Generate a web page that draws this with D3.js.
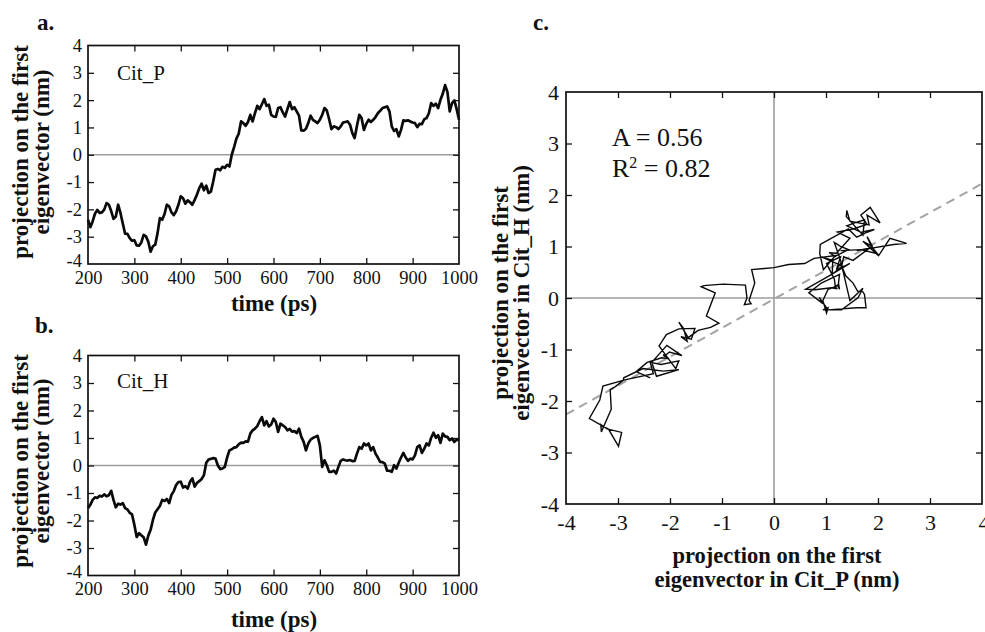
<!DOCTYPE html>
<html>
<head>
<meta charset="utf-8">
<script src="https://cdn.jsdelivr.net/npm/d3@7"></script>
<style>
  html, body { margin: 0; padding: 0; background: #fff; }
  svg { display: block; font-family: "Liberation Serif", "Times New Roman", serif; }
  svg text { font-family: "Liberation Serif", "Times New Roman", serif; }
</style>
</head>
<body>
<svg id="chart" width="985" height="632"></svg>
<script>
// ---------------- data ----------------
const timeStart = 200, timeStep = 5;           // ps, sampling of the traces
const timeTicks = [200, 300, 400, 500, 600, 700, 800, 900, 1000];
const valueTicks = [-4, -3, -2, -1, 0, 1, 2, 3, 4];

// projection on the first eigenvector, Cit_P (nm), t = 200..1000 ps every 5 ps
const citP = [
  -2.38,-2.65,-2.44,-2.16,-2.02,-2.13,-2.11,-2.01,-1.77,-1.83,
  -2.06,-2.35,-2.26,-1.83,-2.13,-2.52,-2.89,-2.90,-3.05,-3.15,
  -3.13,-3.32,-3.33,-3.21,-2.93,-2.99,-3.18,-3.55,-3.35,-3.29,
  -2.87,-2.32,-2.38,-2.17,-1.83,-1.89,-2.11,-2.21,-2.07,-1.83,
  -1.52,-1.59,-1.79,-1.67,-1.74,-1.83,-1.65,-1.46,-1.22,-1.06,
  -1.30,-1.13,-1.40,-1.35,-0.98,-0.55,-0.52,-0.57,-0.44,-0.48,
  -0.37,-0.43,0.00,0.28,0.59,0.77,1.22,1.16,1.06,1.20,
  1.46,1.22,1.52,1.79,1.67,1.85,2.04,1.79,1.83,1.46,
  1.40,1.39,1.71,1.74,1.55,1.40,1.67,1.93,1.67,1.74,
  1.59,1.43,0.89,0.88,0.95,1.16,1.43,1.28,1.22,1.16,
  1.28,1.46,1.71,1.62,1.30,0.94,1.04,1.01,0.94,1.04,
  1.18,1.20,1.22,1.10,0.79,0.61,1.06,1.46,1.34,0.91,
  1.13,1.28,1.20,1.28,1.38,1.52,1.61,1.71,1.74,1.77,
  1.59,1.04,0.87,0.94,0.67,0.91,1.26,1.24,1.26,1.22,
  1.18,1.16,1.01,1.13,1.12,1.30,1.34,1.52,1.89,1.79,
  1.87,1.71,2.01,2.23,2.55,2.30,1.59,1.89,1.99,1.67,
  1.28
];

// projection on the first eigenvector, Cit_H (nm), same time grid
const citH = [
  -1.55,-1.43,-1.25,-1.16,-1.18,-1.10,-1.13,-1.05,-1.12,-1.08,
  -0.92,-1.25,-1.52,-1.39,-1.42,-1.37,-1.55,-1.60,-1.72,-1.78,
  -2.16,-2.60,-2.46,-2.54,-2.61,-2.88,-2.55,-2.34,-1.98,-1.71,
  -1.59,-1.47,-1.25,-1.29,-1.22,-1.37,-1.07,-0.93,-0.71,-0.60,
  -0.59,-0.80,-0.75,-0.84,-0.59,-0.47,-0.77,-0.63,-0.57,-0.49,
  -0.35,0.10,0.22,0.24,0.27,0.25,0.00,-0.13,-0.11,-0.05,
  0.29,0.55,0.59,0.65,0.67,0.77,0.83,0.82,0.88,0.87,
  1.16,1.28,1.34,1.43,1.61,1.76,1.46,1.61,1.42,1.49,
  1.70,1.58,1.22,1.52,1.46,1.40,1.28,1.33,1.23,1.25,
  1.18,1.34,1.04,0.86,0.55,0.80,0.94,1.00,1.04,1.08,
  0.73,-0.05,0.19,0.01,-0.23,-0.23,-0.19,-0.29,-0.05,0.17,
  0.22,0.19,0.18,0.20,0.16,0.17,0.43,0.67,0.61,0.80,
  0.73,0.80,0.55,0.67,0.43,0.29,0.13,0.12,0.07,-0.19,
  -0.19,-0.23,0.01,-0.11,0.10,0.29,0.46,0.29,0.17,0.25,
  0.22,0.37,0.67,0.73,0.46,0.61,0.80,0.73,1.01,1.19,
  1.01,1.10,0.82,1.16,1.06,1.04,0.92,0.98,0.86,0.94,
  0.92
];

// linear fit shown in panel c
const fitSlope = 0.56;
const fitIntercept = -0.02;
const fitR2 = 0.82;

const times = citP.map((_, i) => timeStart + i * timeStep);

// ---------------- drawing ----------------
const svg = d3.select("#chart");
const FONT = '"Liberation Serif", "Times New Roman", serif';
const fmt = d => String(d);   // plain hyphen minus, as in the original

function frameAxes(g, x, y, box, opts) {
  const tl = 6;
  const bottom = d3.axisBottom(x).tickValues(opts.xTicks).tickSizeInner(-tl).tickSizeOuter(0)
      .tickPadding(opts.xPad).tickFormat(fmt);
  const top = d3.axisTop(x).tickValues(opts.xTicks).tickSizeInner(-tl).tickSizeOuter(0).tickFormat("");
  const left = d3.axisLeft(y).tickValues(valueTicks).tickSizeInner(-tl).tickSizeOuter(0)
      .tickPadding(opts.yPad).tickFormat(fmt);
  const right = d3.axisRight(y).tickValues(valueTicks).tickSizeInner(-tl).tickSizeOuter(0).tickFormat("");

  const gb = g.append("g").attr("transform", `translate(0,${box.y1})`).call(bottom);
  const gt = g.append("g").attr("transform", `translate(0,${box.y0})`).call(top);
  const gl = g.append("g").attr("transform", `translate(${box.x0},0)`).call(left);
  const gr = g.append("g").attr("transform", `translate(${box.x1},0)`).call(right);
  [gb, gt, gl, gr].forEach(a => {
    a.attr("font-family", FONT).attr("font-size", opts.fs);
    a.select(".domain").remove();
    a.selectAll(".tick line").attr("stroke", "#111").attr("stroke-width", 1.3);
    a.selectAll("text").attr("fill", "#111").style("font-family", FONT).style("font-size", opts.fs + "px");
  });
  const xEnds = [opts.xTicks[0], opts.xTicks[opts.xTicks.length - 1]];
  gb.selectAll(".tick").filter(d => xEnds.includes(d)).select("line").remove();
  gt.selectAll(".tick").filter(d => xEnds.includes(d)).select("line").remove();
  gl.selectAll(".tick").filter(d => d === -4 || d === 4).select("line").remove();
  gr.selectAll(".tick").filter(d => d === -4 || d === 4).select("line").remove();
  return { gb, gl };
}

function timePanel(box, values, label, panelLabel, plY, titleCy, xTitleY) {
  const x = d3.scaleLinear().domain([200, 1000]).range([box.x0, box.x1]);
  const y = d3.scaleLinear().domain([-4, 4]).range([box.y1, box.y0]);
  const g = svg.append("g");

  g.append("line").attr("x1", box.x0).attr("x2", box.x1).attr("y1", y(0)).attr("y2", y(0))
    .attr("stroke", "#9c9c9c").attr("stroke-width", 1.6);

  const line = d3.line().x((d, i) => x(times[i])).y(d => y(d));
  g.append("path").datum(values).attr("d", line).attr("fill", "none")
    .attr("stroke", "#0a0a0a").attr("stroke-width", 2.7).attr("stroke-linejoin", "round");

  const ax = frameAxes(g, x, y, box, { xTicks: timeTicks, xPad: 6.5, yPad: 6, fs: 18.5 });
  ax.gl.selectAll(".tick").filter(d => d === -4).select("text").attr("dy", "0.12em");

  g.append("rect").attr("x", box.x0).attr("y", box.y0).attr("width", box.x1 - box.x0).attr("height", box.y1 - box.y0)
    .attr("fill", "none").attr("stroke", "#111").attr("stroke-width", 1.7);

  g.append("text").attr("x", 117).attr("y", plY).text(label)
    .style("font-size", "21px").attr("fill", "#111");

  g.append("text").attr("x", panelLabel.x).attr("y", panelLabel.y).text(panelLabel.t)
    .style("font-size", "23px").style("font-weight", "bold").attr("fill", "#111");

  g.append("text").attr("x", (box.x0 + box.x1) / 2 + 0.5).attr("y", xTitleY).attr("text-anchor", "middle")
    .text("time (ps)").style("font-size", "23px").style("font-weight", "bold").attr("fill", "#111");

  const yt = g.append("g").attr("transform", `translate(0,${titleCy}) rotate(-90)`);
  yt.append("text").attr("x", 0).attr("y", 28).attr("text-anchor", "middle")
    .text("projection on the first").style("font-size", "23px").style("font-weight", "bold").attr("fill", "#111");
  yt.append("text").attr("x", 0).attr("y", 49).attr("text-anchor", "middle")
    .text("eigenvector (nm)").style("font-size", "23px").style("font-weight", "bold").attr("fill", "#111");
}

timePanel({ x0: 88, x1: 459, y0: 45.5, y1: 264 }, citP, "Cit_P", { x: 37, y: 30, t: "a." }, 80, 152, 311);
timePanel({ x0: 88, x1: 459, y0: 355.5, y1: 575.5 }, citH, "Cit_H", { x: 35, y: 333, t: "b." }, 388, 461, 627);

// ---------------- panel c ----------------
(function () {
  const box = { x0: 566, x1: 982, y0: 92, y1: 504 };
  const x = d3.scaleLinear().domain([-4, 4]).range([box.x0, box.x1]);
  const y = d3.scaleLinear().domain([-4, 4]).range([box.y1, box.y0]);
  const g = svg.append("g");

  g.append("line").attr("x1", box.x0).attr("x2", box.x1).attr("y1", y(0)).attr("y2", y(0))
    .attr("stroke", "#9c9c9c").attr("stroke-width", 1.6);
  g.append("line").attr("x1", x(0)).attr("x2", x(0)).attr("y1", box.y0).attr("y2", box.y1)
    .attr("stroke", "#9c9c9c").attr("stroke-width", 1.6);

  g.append("line")
    .attr("x1", x(-4)).attr("y1", y(fitSlope * -4 + fitIntercept))
    .attr("x2", x(4)).attr("y2", y(fitSlope * 4 + fitIntercept))
    .attr("stroke", "#a3a3a3").attr("stroke-width", 2).attr("stroke-dasharray", "9,6");

  const pairs = d3.zip(citP, citH);
  const line = d3.line().x(d => x(d[0])).y(d => y(d[1]));
  g.append("path").datum(pairs).attr("d", line).attr("fill", "none")
    .attr("stroke", "#0a0a0a").attr("stroke-width", 1.4).attr("stroke-linejoin", "miter");

  const ax = frameAxes(g, x, y, box, { xTicks: valueTicks, xPad: 10.5, yPad: 7, fs: 22 });
  // the last x label sits on the picture's right edge, as in the original
  ax.gb.selectAll(".tick").filter(d => d === 4).select("text").attr("text-anchor", "start").attr("x", -4);

  g.append("rect").attr("x", box.x0).attr("y", box.y0).attr("width", box.x1 - box.x0).attr("height", box.y1 - box.y0)
    .attr("fill", "none").attr("stroke", "#111").attr("stroke-width", 1.7);

  g.append("text").attr("x", 533).attr("y", 30).text("c.")
    .style("font-size", "23px").style("font-weight", "bold").attr("fill", "#111");

  g.append("text").attr("x", 612).attr("y", 146).text("A = " + fitSlope.toFixed(2))
    .style("font-size", "26px").attr("fill", "#111");
  const r = g.append("text").attr("x", 612).attr("y", 177).style("font-size", "26px").attr("fill", "#111");
  r.append("tspan").text("R");
  r.append("tspan").attr("dy", -9).style("font-size", "16px").text("2");
  r.append("tspan").attr("dy", 9).text(" = " + fitR2.toFixed(2));

  g.append("text").attr("x", 777).attr("y", 563).attr("text-anchor", "middle").style("font-size", "22.5px")
    .style("font-weight", "bold").attr("fill", "#111").text("projection on the first");
  g.append("text").attr("x", 777).attr("y", 587).attr("text-anchor", "middle").style("font-size", "22.5px")
    .style("font-weight", "bold").attr("fill", "#111").text("eigenvector in Cit_P (nm)");

  const yt = g.append("g").attr("transform", `translate(0,293) rotate(-90)`);
  yt.append("text").attr("x", 0).attr("y", 508).attr("text-anchor", "middle")
    .text("projection on the first").style("font-size", "23px").style("font-weight", "bold").attr("fill", "#111");
  yt.append("text").attr("x", 0).attr("y", 529).attr("text-anchor", "middle")
    .text("eigenvector in Cit_H (nm)").style("font-size", "23px").style("font-weight", "bold").attr("fill", "#111");
})();
</script>
</body>
</html>
